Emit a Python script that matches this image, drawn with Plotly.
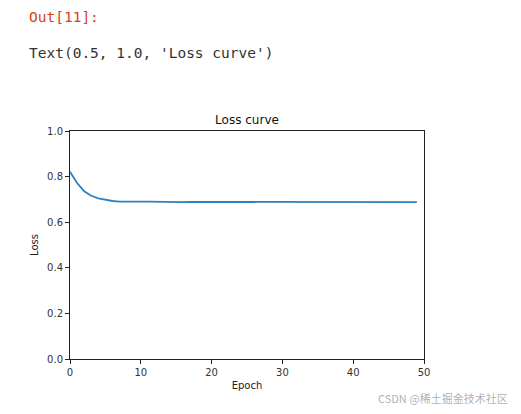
import plotly.graph_objects as go

# loss per epoch
epochs = list(range(50))
loss = [0.821, 0.772, 0.736, 0.716, 0.705, 0.698, 0.693, 0.690, 0.689, 0.689,
        0.690, 0.690, 0.689, 0.689, 0.688, 0.689, 0.688, 0.689, 0.689, 0.689,
        0.688, 0.688, 0.689, 0.688, 0.688, 0.689, 0.689, 0.688, 0.688, 0.688,
        0.688, 0.689, 0.688, 0.688, 0.688, 0.687, 0.686, 0.687, 0.688, 0.688,
        0.689, 0.688, 0.688, 0.687, 0.688, 0.689, 0.688, 0.688, 0.688, 0.688]
x_ticks = [0, 10, 20, 30, 40, 50]
y_ticks = [0.0, 0.2, 0.4, 0.6, 0.8, 1.0]

# the page body adds an 8px offset, so margins are shifted to compensate
OFF = 8

fig = go.Figure()
fig.add_trace(go.Scatter(x=epochs, y=loss, mode='lines',
                         line=dict(color='#2f80bd', width=1.8)))

axis_style = dict(showline=True, linecolor='#222', linewidth=1, mirror=True,
                  ticks='outside', ticklen=4, tickcolor='#222', showgrid=False,
                  zeroline=False, tickfont=dict(size=10, color='#333'))

fig.update_layout(
    width=521, height=414,
    margin=dict(l=70 - OFF, r=97 + OFF, t=131 - OFF, b=55 + OFF),
    paper_bgcolor='white', plot_bgcolor='white',
    showlegend=False,
    font=dict(family='DejaVu Sans', color='#222'),
    title=dict(text='Loss curve', x=(247 - OFF) / 521, xanchor='center',
               y=1 - (120 - OFF) / 414, yanchor='middle', font=dict(size=12, color='#111')),
    xaxis=dict(range=[0, 50], tickvals=x_ticks, tickformat='d',
               title=dict(text='Epoch', font=dict(size=10, color='#222'), standoff=4),
               **axis_style),
    yaxis=dict(range=[0, 1.0], tickvals=y_ticks, tickformat='.1f',
               title=dict(text='Loss', font=dict(size=10, color='#222'), standoff=6),
               **axis_style),
)

pw, ph = 354.0, 228.0
def px(x):
    return (x - 70) / pw
def py(y):
    return (359 - y) / ph

fig.add_annotation(text='Out[11]:', xref='paper', yref='paper',
                   x=px(27), y=py(17), xanchor='left', yanchor='middle',
                   showarrow=False,
                   font=dict(family='DejaVu Sans Mono', size=14.5, color='#D84315'))
fig.add_annotation(text="Text(0.5, 1.0, 'Loss curve')", xref='paper', yref='paper',
                   x=px(27), y=py(53), xanchor='left', yanchor='middle',
                   showarrow=False,
                   font=dict(family='DejaVu Sans Mono', size=14.5, color='#333'))
fig.add_annotation(text='CSDN @稀土掘金技术社区', xref='paper', yref='paper',
                   x=px(510), y=py(398), xanchor='right', yanchor='middle',
                   showarrow=False,
                   font=dict(family='Noto Sans CJK SC', size=11, color='rgba(120,120,120,0.6)'))

fig.write_html("out.html")
